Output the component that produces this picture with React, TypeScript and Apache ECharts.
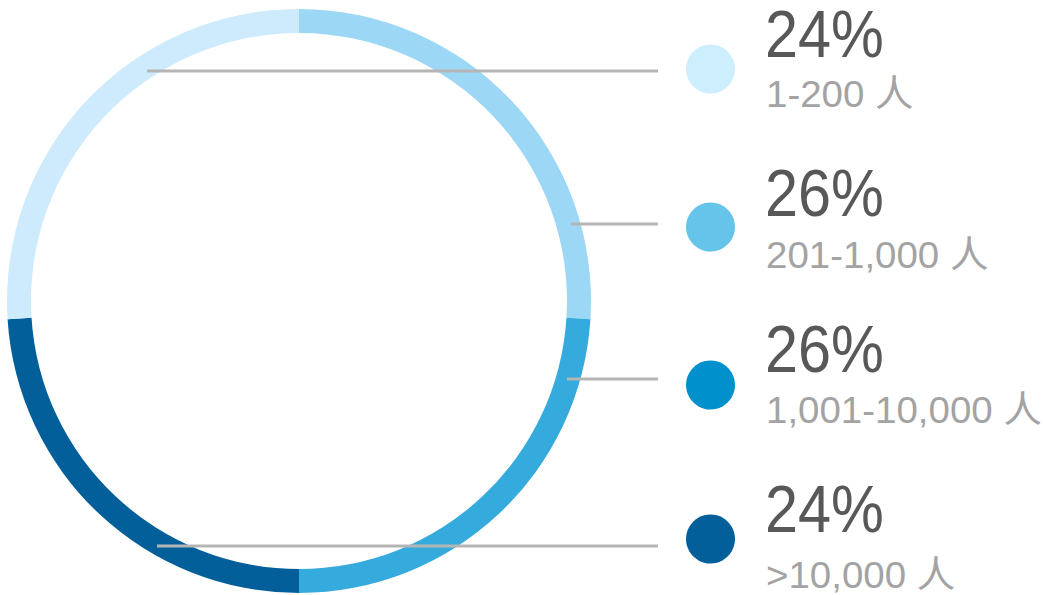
import React, { useEffect, useRef } from "react";
import * as echarts from "echarts";

// Ring segments, clockwise from 12 o'clock (as drawn)
const ringLabels = ["201-1,000 人", "1,001-10,000 人", ">10,000 人", "1-200 人"];
const ringValues = [26, 24, 24, 26];
const ringColors = ["#9cd8f5", "#35aadc", "#035f99", "#cdebfc"];

// Legend entries (top to bottom)
const legendLabels = ["1-200 人", "201-1,000 人", "1,001-10,000 人", ">10,000 人"];
const legendPercents = [24, 26, 26, 24];
const legendColors = ["#cdeefd", "#66c3ea", "#0090cc", "#035f99"];

// layout
const rowCircleY = [69, 227, 385, 539];
const rowBigY = [34, 193, 349, 509];
const rowSubY = [94, 255, 410, 575];
const leaderY = [71, 224, 379, 546];
const leaderX0 = [147, 571, 567, 157];

export default function App() {
  const ref = useRef<HTMLDivElement>(null);
  useEffect(() => {
    if (!ref.current) return;
    const chart = echarts.init(ref.current, null, { renderer: "svg" });
    const graphic: any[] = [];
    legendLabels.forEach((lab, i) => {
      graphic.push({
        type: "line",
        shape: { x1: leaderX0[i], y1: leaderY[i], x2: 658, y2: leaderY[i] },
        style: { stroke: "#b5b5b5", lineWidth: 3 },
        z: 10,
      });
      graphic.push({
        type: "circle",
        shape: { cx: 710.5, cy: rowCircleY[i], r: 24.5 },
        style: { fill: legendColors[i] },
      });
      graphic.push({
        type: "text",
        x: 765,
        y: rowBigY[i],
        scaleX: 0.99,
        scaleY: 1.1,
        style: {
          text: legendPercents[i] + "%",
          x: 0,
          y: 0,
          fill: "#585858",
          font: "60px 'Liberation Sans', Arial, sans-serif",
          lineHeight: 50,
          textAlign: "left",
          textVerticalAlign: "middle",
        },
      });
      graphic.push({
        type: "text",
        x: 766,
        y: rowSubY[i],
        scaleX: 1.04,
        style: {
          text: lab,
          x: 0,
          y: 0,
          fill: "#a3a3a3",
          font: "37px 'Liberation Sans', Arial, 'Noto Sans CJK SC', sans-serif",
          textAlign: "left",
          textVerticalAlign: "middle",
        },
      });
    });
    chart.setOption({
      animation: false,
      backgroundColor: "#ffffff",
      series: [
        {
          type: "pie",
          center: [299, 301],
          radius: [268, 292],
          startAngle: 90,
          clockwise: true,
          silent: true,
          label: { show: false },
          labelLine: { show: false },
          itemStyle: { borderWidth: 0 },
          data: ringLabels.map((n, i) => ({
            name: n,
            value: ringValues[i],
            itemStyle: { color: ringColors[i] },
          })),
        },
      ],
      graphic,
    });
    return () => chart.dispose();
  }, []);
  return (
    <div
      ref={ref}
      style={{ position: "absolute", left: 0, top: 0, width: 1044, height: 595 }}
    />
  );
}
